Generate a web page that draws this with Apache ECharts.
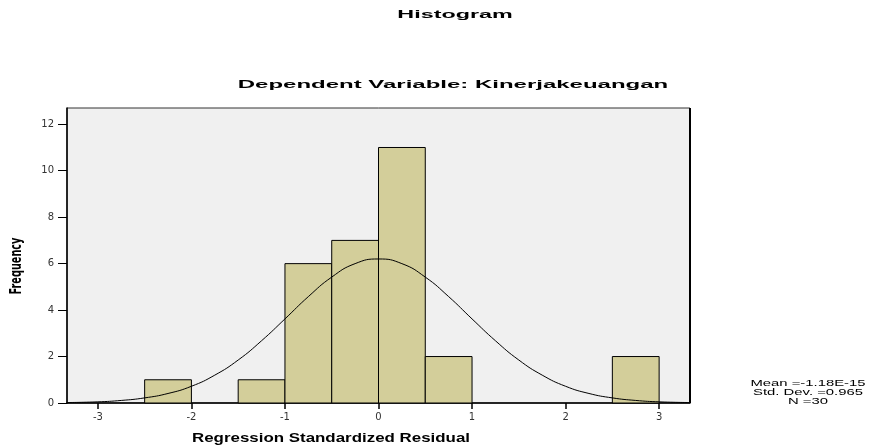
<!DOCTYPE html>
<html lang="en">
<head>
<meta charset="UTF-8">
<title>Histogram</title>
<script src="https://cdn.jsdelivr.net/npm/echarts@6/dist/echarts.min.js"></script>
<style>
  html, body { margin: 0; padding: 0; background: #fff; }
  #main { width: 875px; height: 447px; }
</style>
</head>
<body>
<div id="main"></div>
<script type="text/javascript">
// histogram bins (lower edge, upper edge) and frequencies
var binStart = [-2.5, -1.5, -1.0, -0.5, 0.0, 0.5, 2.5];
var binEnd   = [-2.0, -1.0, -0.5, 0.0, 0.5, 1.0, 3.0];
var freq     = [1, 1, 6, 7, 11, 2, 2];

// normal curve
var curveX = [-3.33, -3, -2.75, -2.5, -2.25, -2, -1.75, -1.5, -1.25, -1, -0.75, -0.5, -0.25, 0,
              0.25, 0.5, 0.75, 1, 1.25, 1.5, 1.75, 2, 2.25, 2.5, 2.75, 3, 3.33];
var curveY = [0.02, 0.05, 0.11, 0.22, 0.41, 0.72, 1.2, 1.85, 2.68, 3.62, 4.58, 5.42, 6.0, 6.2,
              6.0, 5.42, 4.58, 3.62, 2.68, 1.85, 1.2, 0.72, 0.41, 0.22, 0.11, 0.05, 0.02];

var xTicks = [-3, -2, -1, 0, 1, 2, 3];
var yTicks = [0, 2, 4, 6, 8, 10, 12];
var statsLines = ['Mean =-1.18E-15', 'Std. Dev. =0.965', 'N =30'];

var chart = echarts.init(document.getElementById('main'));

var bars = [];
for (var i = 0; i < freq.length; i++) {
  bars.push([binStart[i], binEnd[i], freq[i]]);
}
var curve = [];
for (var j = 0; j < curveX.length; j++) {
  curve.push([curveX[j], curveY[j]]);
}

var arial = "'Liberation Sans', Arial, sans-serif";

chart.setOption({
  backgroundColor: '#fff',
  animation: false,
  textStyle: { fontFamily: arial },
  grid: { left: 67, top: 108, right: 185, bottom: 44, show: true,
          backgroundColor: '#f0f0f0', borderColor: '#333', borderWidth: 1 },
  xAxis: {
    type: 'value', min: -3.33, max: 3.33,
    axisLine: { show: true, onZero: false, lineStyle: { color: '#000', width: 1.5 } },
    axisTick: { show: true, customValues: xTicks, length: 6, lineStyle: { color: '#000', width: 1.5 } },
    axisLabel: { customValues: xTicks, color: '#333', fontSize: 10, margin: 9,
                 fontFamily: "'DejaVu Sans', sans-serif" },
    splitLine: { show: false }
  },
  yAxis: {
    type: 'value', min: 0, max: 12.7,
    axisLine: { show: true, onZero: false, lineStyle: { color: '#000', width: 1.5 } },
    axisTick: { show: true, customValues: yTicks, length: 9, lineStyle: { color: '#000', width: 1 } },
    axisLabel: { customValues: yTicks, color: '#333', fontSize: 10, margin: 13,
                 fontFamily: "'DejaVu Sans', sans-serif" },
    splitLine: { show: false }
  },
  graphic: [
    { type: 'text', x: 455, y: 15, scaleX: 2.12,
      style: { text: 'Histogram', font: 'bold 11px ' + arial, fill: '#000',
               align: 'center', verticalAlign: 'middle' } },
    { type: 'text', x: 453, y: 85, scaleX: 2.18,
      style: { text: 'Dependent Variable: Kinerjakeuangan', font: 'bold 11px ' + arial, fill: '#000',
               align: 'center', verticalAlign: 'middle' } },
    { type: 'text', x: 331, y: 438, scaleX: 1.3,
      style: { text: 'Regression Standardized Residual', font: 'bold 13px ' + arial, fill: '#000',
               align: 'center', verticalAlign: 'middle' } },
    { type: 'text', x: 17, y: 266, rotation: Math.PI / 2, scaleX: 0.72,
      style: { text: 'Frequency', font: "bold 15px 'Liberation Sans Narrow', 'DejaVu Sans Condensed', Arial, sans-serif",
               fill: '#000', align: 'center', verticalAlign: 'middle' } },
    { type: 'text', x: 808, y: 379, scaleX: 1.65,
      style: { text: statsLines.join('\n'), font: '9px ' + arial, fill: '#000',
               align: 'center', lineHeight: 9 } },
    // heavy right edge of the plot frame
    { type: 'rect', shape: { x: 689, y: 108, width: 2, height: 295 }, style: { fill: '#000' } }
  ],
  series: [
    {
      type: 'custom',
      data: bars,
      encode: { x: [0, 1], y: 2 },
      renderItem: function (params, api) {
        var p0 = api.coord([api.value(0), api.value(2)]);
        var p1 = api.coord([api.value(1), 0]);
        return {
          type: 'rect',
          shape: { x: p0[0], y: p0[1], width: p1[0] - p0[0], height: p1[1] - p0[1] },
          style: { fill: '#d3ce9a', stroke: '#000', lineWidth: 1 }
        };
      }
    },
    {
      type: 'line',
      data: curve,
      smooth: true,
      showSymbol: false,
      z: 5,
      lineStyle: { color: '#000', width: 1 }
    }
  ]
});
</script>
</body>
</html>
